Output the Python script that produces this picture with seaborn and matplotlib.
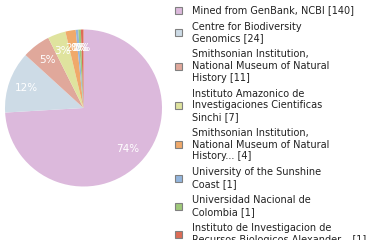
import matplotlib
matplotlib.use("Agg")
import matplotlib.pyplot as plt
from matplotlib.patches import Rectangle
import seaborn as sns

labels = [
    "Mined from GenBank, NCBI [140]",
    "Centre for Biodiversity\nGenomics [24]",
    "Smithsonian Institution,\nNational Museum of Natural\nHistory [11]",
    "Instituto Amazonico de\nInvestigaciones Cientificas\nSinchi [7]",
    "Smithsonian Institution,\nNational Museum of Natural\nHistory... [4]",
    "University of the Sunshine\nCoast [1]",
    "Universidad Nacional de\nColombia [1]",
    "Instituto de Investigacion de\nRecursos Biologicos Alexander... [1]",
]
counts = [140, 24, 11, 7, 4, 1, 1, 1]
colors = ["#dcb9dc", "#cddbe6", "#e0a89b", "#dfe39e", "#f0a96a", "#93b5dd", "#9fc97a", "#dd6b55"]

sns.set_style("white")
plt.rcParams['font.family'] = ['DejaVu Sans']

W, H = 380, 240
fig = plt.figure(figsize=(W / 100, H / 100), dpi=100)

cx, cy, r = 83.5, 108, 78.5
ax = fig.add_axes([(cx - r) / W, (H - cy - r) / H, 2 * r / W, 2 * r / H])
wedges, texts, autotexts = ax.pie(
    counts, colors=colors, startangle=90, counterclock=False,
    autopct=lambda p: f"{int(p)}%", pctdistance=0.77, radius=1,
    wedgeprops=dict(linewidth=0),
    textprops=dict(color="white", fontsize=7.5),
)
ax.set_xlim(-1, 1)
ax.set_ylim(-1, 1)
ax.set_aspect("equal")
ax.axis("off")

# Legend drawn manually in pixel coordinates
line_h = 11.2
gap = 5.6
y = 4.5  # top of first line (pixels from top)
for lab, col in zip(labels, colors):
    n = lab.count("\n") + 1
    hgt = n * line_h
    yc = y + hgt / 2
    fig.patches.append(Rectangle(((174.5) / W, (H - yc - 3.5) / H), 7 / W, 7 / H,
                                 transform=fig.transFigure, facecolor=col,
                                 edgecolor="#808080", linewidth=0.8))
    fig.text(192 / W, (H - yc) / H, lab, ha="left", va="center",
             fontsize=7, color="#222222", linespacing=1.2)
    y += hgt + gap

fig.savefig("out.png", dpi=100)
